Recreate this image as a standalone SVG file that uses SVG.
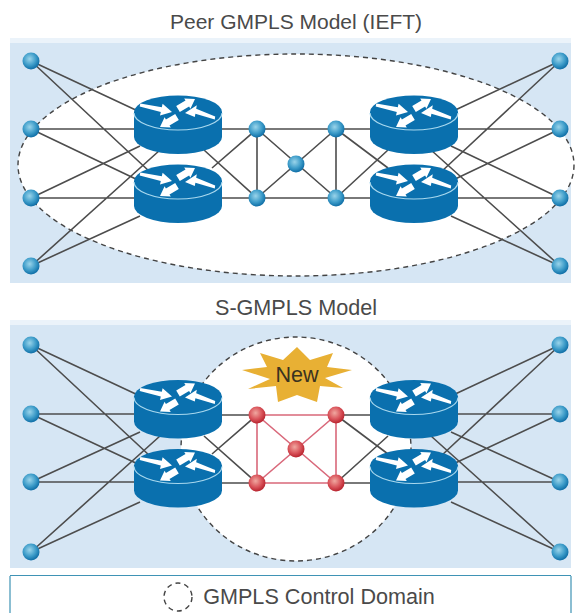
<svg xmlns="http://www.w3.org/2000/svg" width="581" height="613" viewBox="0 0 581 613">
<style>
.t{font-family:"Liberation Sans",Arial,sans-serif;font-size:21.600px;fill:#4a4a4a;text-anchor:middle}
.dom{fill:#fff;stroke:#444;stroke-width:1.4;stroke-dasharray:5 4}
.lk{fill:none;stroke:#4d4d4d;stroke-width:1.6}
.rd{fill:none;stroke:#d9687a;stroke-width:1.6}
</style>
<defs>
<radialGradient id="gb" cx="0.42" cy="0.38" r="0.62"><stop offset="0" stop-color="#9ad4ea"/><stop offset="0.6" stop-color="#3d9cc9"/><stop offset="1" stop-color="#0f6ea6"/></radialGradient>
<radialGradient id="gr" cx="0.42" cy="0.38" r="0.62"><stop offset="0" stop-color="#f0a8a0"/><stop offset="0.6" stop-color="#d9535a"/><stop offset="1" stop-color="#b8242f"/></radialGradient>
<circle id="nb" r="8.500" fill="url(#gb)"/>
<circle id="nr" r="8.500" fill="url(#gr)"/>
<g id="router">
<path d="M-44 0V25A44 17 0 0 0 44 25V0Z" fill="#0a70ae"/>
<ellipse rx="44" ry="16.500" fill="#0a70ae"/>
<path d="M-44 1A44 17 0 0 0 44 1" fill="none" stroke="#a8d8ee" stroke-width="1.200"/>
<g fill="#fff">
<polygon points="-37.7,-8.5 -16.2,-4.8 -15.4,-8.3 -6,0 -18,3.5 -17.2,0 -38.3,-5.5"/>
<polygon points="7,1 18.8,-6.7 18.2,-3.3 37.2,4.5 36.8,7.5 17.4,1.7 16.8,5.1"/>
<polygon points="1.8,0 11.1,-5.4 12.4,-3.2 17,-13 6.2,-13.6 7.5,-11.4 -1.8,-6"/>
<polygon points=".8,8 -8.5,13.4 -7.2,15.6 -18,15 -13.4,5.2 -12.1,7.4 -2.8,2"/>
</g>
</g>
</defs>
<rect width="581" height="613" fill="#fff"/>
<g id="panels">
<rect x="10" y="38" width="561" height="5" fill="#ebf3fa"/>
<rect x="10" y="43" width="561" height="240" fill="#d6e6f4"/>
<rect x="10" y="320" width="561" height="5" fill="#ebf3fa"/>
<rect x="10" y="325" width="561" height="243" fill="#d6e6f4"/>
<path d="M10 575.500H571M10 576V613M571 576V613" fill="none" stroke="#3f93b5" stroke-width="1.200"/>
</g>
<g id="domains">
<ellipse id="domain-peer" class="dom" cx="296" cy="165" rx="278" ry="111"/>
<ellipse id="domain-s" class="dom" cx="296" cy="449" rx="115" ry="112"/>
</g>
<g id="connectors">
<path class="lk" d="M31 61L140 112M31 61L150 172M31 129H140M31 129L140 181M31 198L140 146M31 198H140M31 266L160 150M31 266L140 216"/>
<path class="lk" d="M560 61L451 112M560 61L441 172M560 129H451M560 129L451 181M560 198L451 146M560 198H451M560 266L431 150M560 266L451 216"/>
<path class="lk" d="M215 129H375M215 198H375M204 150L257 198M212 168L257 129M257 129V198M257 129L336 198M257 198L336 129M336 129V198M336 129L388 168M336 198L388 150"/>
<path class="lk" d="M31 345L140 396M31 345L150 456M31 414H140M31 414L140 465M31 482L140 432M31 482H140M31 552L160 436M31 552L140 502"/>
<path class="lk" d="M560 345L451 396M560 345L441 456M560 414H451M560 414L451 465M560 482L451 432M560 482H451M560 552L431 436M560 552L451 502"/>
<path class="lk" d="M215 415H257M215 483H257M204 436L257 483M212 454L257 415M336 415H375M336 483H375M336 415L388 454M336 483L388 436"/>
<path class="rd" d="M257 415H336M257 483H336M257 415V483M336 415V483M257 415L336 483M257 483L336 415"/>
</g>
<g id="star"><polygon fill="#e8b034" points="297,347 310,360 333,353 327,367 352,370 325,378 343,388 320,386 317,402 297,395 278,402 276,386 248,389 270,379 242,370 267,367 260,353 283,360"/><text class="t" x="297" y="382" style="fill:#3a3320">New</text></g>
<g id="p1-r1"><use href="#router" x="178" y="112"/></g>
<g id="p1-r2"><use href="#router" x="178" y="181"/></g>
<g id="p1-r3"><use href="#router" x="414" y="112"/></g>
<g id="p1-r4"><use href="#router" x="414" y="181"/></g>
<g id="p2-r1"><use href="#router" x="178" y="396.500"/></g>
<g id="p2-r2"><use href="#router" x="178" y="465.500"/></g>
<g id="p2-r3"><use href="#router" x="414" y="396.500"/></g>
<g id="p2-r4"><use href="#router" x="414" y="465.500"/></g>
<g id="p1-l1"><use href="#nb" x="31" y="61"/></g>
<g id="p1-l2"><use href="#nb" x="31" y="129"/></g>
<g id="p1-l3"><use href="#nb" x="31" y="198"/></g>
<g id="p1-l4"><use href="#nb" x="31" y="266"/></g>
<g id="p1-e1"><use href="#nb" x="560" y="61"/></g>
<g id="p1-e2"><use href="#nb" x="560" y="129"/></g>
<g id="p1-e3"><use href="#nb" x="560" y="198"/></g>
<g id="p1-e4"><use href="#nb" x="560" y="266"/></g>
<g id="p1-m1"><use href="#nb" x="257" y="129"/></g>
<g id="p1-m2"><use href="#nb" x="336" y="129"/></g>
<g id="p1-m3"><use href="#nb" x="296" y="164"/></g>
<g id="p1-m4"><use href="#nb" x="257" y="198"/></g>
<g id="p1-m5"><use href="#nb" x="336" y="198"/></g>
<g id="p2-l1"><use href="#nb" x="31" y="345"/></g>
<g id="p2-l2"><use href="#nb" x="31" y="414"/></g>
<g id="p2-l3"><use href="#nb" x="31" y="482"/></g>
<g id="p2-l4"><use href="#nb" x="31" y="552"/></g>
<g id="p2-e1"><use href="#nb" x="560" y="345"/></g>
<g id="p2-e2"><use href="#nb" x="560" y="414"/></g>
<g id="p2-e3"><use href="#nb" x="560" y="482"/></g>
<g id="p2-e4"><use href="#nb" x="560" y="552"/></g>
<g id="p2-m1"><use href="#nr" x="257" y="415"/></g>
<g id="p2-m2"><use href="#nr" x="336" y="415"/></g>
<g id="p2-m3"><use href="#nr" x="296" y="449"/></g>
<g id="p2-m4"><use href="#nr" x="257" y="483"/></g>
<g id="p2-m5"><use href="#nr" x="336" y="483"/></g>
<g id="titles">
<text class="t" x="296" y="29" style="font-size:21px">Peer GMPLS Model (IEFT)</text>
<text class="t" x="296" y="315">S-GMPLS Model</text>
</g>
<g id="legend">
<circle cx="178" cy="597" r="14" fill="none" stroke="#444" stroke-width="1.400" stroke-dasharray="5 4"/>
<text class="t" x="319" y="604">GMPLS Control Domain</text>
</g>
</svg>
